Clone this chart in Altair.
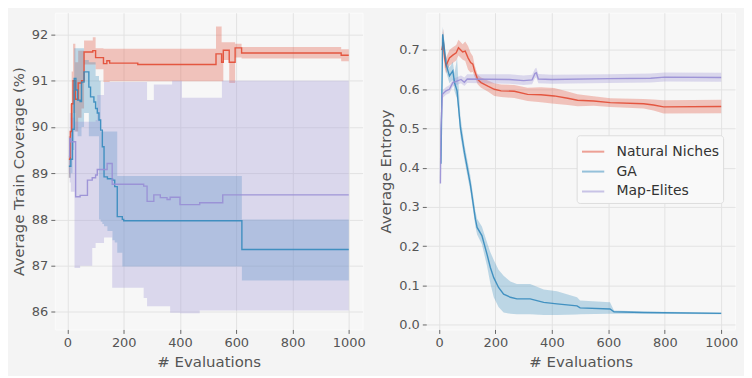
import altair as alt
import pandas as pd

SERIES = ["Natural Niches", "GA", "Map-Elites"]
COLORS = ["#E24A33", "#348ABD", "#988ED5"]
X_TICKS = [0, 200, 400, 600, 800, 1000]

# ---------------- Left panel: Average Train Coverage (%) ----------------
COV_NN_X = [5, 10, 15, 20, 28, 38, 50, 59, 90, 100, 128, 140, 150, 250, 528, 548, 554, 575, 596, 619, 973, 1000]
COV_NN_MEAN = [89.3, 89.9, 90.5, 91.0, 90.6, 90.95, 91.0, 91.62, 91.65, 91.5, 91.37, 91.43, 91.38, 91.35,
               91.58, 91.40, 91.66, 91.40, 91.71, 91.60, 91.55, 91.55]
COV_NN_LO = [88.9, 89.3, 89.8, 90.3, 89.9, 90.2, 90.4, 91.35, 91.35, 91.25, 90.97, 90.97, 90.99, 90.99,
             90.99, 90.99, 91.45, 90.95, 91.5, 91.48, 91.42, 91.42]
COV_NN_HI = [89.8, 90.5, 91.2, 91.8, 91.4, 91.65, 91.65, 91.87, 91.94, 91.7, 91.69, 91.69, 91.69, 91.69,
             92.17, 91.83, 91.83, 91.83, 91.8, 91.73, 91.68, 91.68]

COV_GA_X = [5, 12, 18, 24, 30, 36, 45, 50, 59, 76, 82, 94, 100, 106, 112, 118, 124, 130, 142, 160, 168,
            177, 195, 200, 620, 1000]
COV_GA_MEAN = [89.15, 89.3, 89.95, 91.05, 90.8, 90.58, 90.55, 90.97, 91.19, 90.86, 90.65, 90.54, 90.4,
               90.3, 90.15, 89.93, 89.57, 88.92, 88.88, 88.85, 88.71, 88.06, 88.0, 87.97, 87.35, 87.35]
COV_GA_LO = [88.9, 89.0, 89.5, 89.9, 89.9, 89.8, 89.8, 90.0, 90.3, 89.8, 89.8, 89.8, 89.8,
             89.8, 88.0, 87.95, 87.9, 87.85, 87.75, 87.55, 87.5, 87.28, 86.98, 86.98, 86.68, 86.68]
COV_GA_HI = [89.5, 90.3, 90.8, 91.7, 91.7, 91.7, 91.7, 91.7, 91.45, 91.4, 91.4, 91.4, 91.1,
             91.1, 91.0, 89.9, 89.9, 89.9, 89.9, 89.9, 89.9, 88.94, 88.94, 88.94, 88.0, 88.0]

COV_ME_X = [5, 8, 12, 25, 29, 45, 71, 88, 100, 106, 130, 141, 159, 271, 283, 307, 330, 354, 365, 372,
            400, 407, 470, 549, 552, 1000]
COV_ME_MEAN = [89.36, 89.75, 89.68, 89.68, 88.49, 88.52, 88.85, 88.9, 88.96, 89.08, 89.08, 89.21, 88.76,
               88.72, 88.39, 88.53, 88.47, 88.43, 88.48, 88.48, 88.32, 88.32, 88.36, 88.36, 88.53, 88.53]
COV_ME_LO = [89.0, 88.8, 88.6, 86.95, 86.95, 87.0, 87.0, 87.38, 87.49, 87.49, 87.61, 87.61, 86.52,
             86.3, 86.12, 86.12, 86.12, 86.12, 85.98, 85.98, 85.97, 85.97, 86.03, 86.03, 86.03, 86.03]
COV_ME_HI = [89.8, 90.3, 90.2, 90.11, 90.11, 90.11, 90.11, 90.11, 90.15, 90.69, 90.97, 90.97, 90.97,
             90.97, 90.58, 90.92, 90.92, 90.92, 90.92, 91.0, 91.0, 90.63, 90.63, 91.0, 91.0, 91.0]

# ---------------- Right panel: Average Entropy ----------------
ENT_NN_X = [10, 15, 20, 25, 37, 49, 61, 69, 84, 93, 103, 112, 120, 126, 137, 149, 173, 196, 220, 267,
            314, 361, 408, 456, 491, 548, 607, 725, 760, 796, 1000]
ENT_NN_MEAN = [0.70, 0.72, 0.68, 0.66, 0.68, 0.687, 0.693, 0.706, 0.695, 0.697, 0.68, 0.668, 0.664, 0.647,
               0.625, 0.617, 0.608, 0.60, 0.596, 0.595, 0.587, 0.586, 0.583, 0.577, 0.572, 0.570, 0.566,
               0.563, 0.560, 0.555, 0.556]
ENT_NN_LO = [0.67, 0.69, 0.655, 0.64, 0.66, 0.667, 0.673, 0.686, 0.675, 0.672, 0.65, 0.643, 0.644, 0.632,
             0.613, 0.604, 0.594, 0.583, 0.580, 0.578, 0.570, 0.567, 0.563, 0.560, 0.557, 0.558, 0.555,
             0.551, 0.546, 0.538, 0.539]
ENT_NN_HI = [0.73, 0.755, 0.705, 0.68, 0.70, 0.707, 0.713, 0.726, 0.715, 0.722, 0.71, 0.693, 0.684, 0.662,
             0.637, 0.630, 0.622, 0.615, 0.612, 0.611, 0.604, 0.605, 0.603, 0.594, 0.587, 0.582, 0.577,
             0.575, 0.574, 0.572, 0.573]

ENT_GA_X = [7, 13, 25, 37, 49, 55, 64, 76, 90, 111, 129, 135, 152, 170, 182, 194, 211, 229, 253, 276,
            323, 371, 418, 489, 500, 606, 620, 724, 1000]
ENT_GA_MEAN = [0.41, 0.74, 0.664, 0.634, 0.647, 0.617, 0.596, 0.502, 0.439, 0.358, 0.269, 0.248, 0.227,
               0.18, 0.146, 0.12, 0.095, 0.078, 0.07, 0.066, 0.066, 0.057, 0.053, 0.048, 0.043, 0.04,
               0.033, 0.031, 0.029]
ENT_GA_LO = [0.40, 0.72, 0.645, 0.615, 0.625, 0.595, 0.575, 0.48, 0.42, 0.34, 0.25, 0.23, 0.205, 0.15,
             0.105, 0.07, 0.045, 0.031, 0.028, 0.027, 0.027, 0.025, 0.025, 0.026, 0.027, 0.028, 0.028,
             0.028, 0.027]
ENT_GA_HI = [0.42, 0.76, 0.685, 0.655, 0.67, 0.64, 0.68, 0.53, 0.46, 0.38, 0.29, 0.27, 0.25, 0.21, 0.185,
             0.165, 0.14, 0.125, 0.11, 0.104, 0.104, 0.09, 0.085, 0.07, 0.062, 0.057, 0.036, 0.034, 0.031]

ENT_ME_X = [5, 7, 12, 25, 37, 49, 61, 78, 90, 100, 250, 300, 330, 340, 345, 352, 400, 600, 750, 800, 1000]
ENT_ME_MEAN = [0.36, 0.50, 0.587, 0.596, 0.60, 0.617, 0.62, 0.625, 0.618, 0.626, 0.625, 0.622, 0.624,
               0.64, 0.642, 0.626, 0.625, 0.627, 0.628, 0.631, 0.630]
ENT_ME_LO = [0.355, 0.49, 0.577, 0.586, 0.59, 0.607, 0.61, 0.615, 0.608, 0.616, 0.614, 0.611, 0.613,
             0.628, 0.63, 0.615, 0.614, 0.616, 0.617, 0.62, 0.619]
ENT_ME_HI = [0.365, 0.51, 0.597, 0.606, 0.61, 0.627, 0.63, 0.635, 0.63, 0.638, 0.638, 0.635, 0.637,
             0.652, 0.655, 0.639, 0.637, 0.638, 0.64, 0.643, 0.642]


def frame(name, xs, mean, lo, hi):
    return pd.DataFrame({"series": name, "band": name, "x": xs, "mean": mean, "lo": lo, "hi": hi})


cov_df = pd.concat([
    frame("Natural Niches", COV_NN_X, COV_NN_MEAN, COV_NN_LO, COV_NN_HI),
    frame("GA", COV_GA_X, COV_GA_MEAN, COV_GA_LO, COV_GA_HI),
    frame("Map-Elites", COV_ME_X, COV_ME_MEAN, COV_ME_LO, COV_ME_HI),
])
ent_df = pd.concat([
    frame("Natural Niches", ENT_NN_X, ENT_NN_MEAN, ENT_NN_LO, ENT_NN_HI),
    frame("GA", ENT_GA_X, ENT_GA_MEAN, ENT_GA_LO, ENT_GA_HI),
    frame("Map-Elites", ENT_ME_X, ENT_ME_MEAN, ENT_ME_LO, ENT_ME_HI),
])

# band scale uses alphabetical order so it is kept apart from the line legend
COLOR_OF = dict(zip(SERIES, COLORS))
BAND_DOMAIN = sorted(SERIES)
BAND_RANGE = [COLOR_OF[s] for s in BAND_DOMAIN]


def panel(df, ydomain, yticks, ytitle, yfmt, interp, width, legend):
    x = alt.X("x:Q", scale=alt.Scale(domain=[-45, 1049], nice=False, zero=False),
              axis=alt.Axis(values=X_TICKS, title="# Evaluations", format="d"))
    yscale = alt.Scale(domain=ydomain, nice=False, zero=False)
    yaxis = alt.Axis(values=yticks, title=ytitle, format=yfmt)
    band = alt.Chart(df).mark_area(opacity=0.3, interpolate=interp, clip=True).encode(
        x=x,
        y=alt.Y("lo:Q", scale=yscale, axis=yaxis, stack=None),
        y2="hi:Q",
        fill=alt.Fill("band:N", scale=alt.Scale(domain=BAND_DOMAIN, range=BAND_RANGE), legend=None),
    )
    line = alt.Chart(df).mark_line(strokeWidth=1.4, interpolate=interp, clip=True, opacity=0.9).encode(
        x=x,
        y=alt.Y("mean:Q", scale=yscale, axis=yaxis),
        stroke=alt.Stroke("series:N", scale=alt.Scale(domain=SERIES, range=COLORS), legend=legend),
    )
    return alt.layer(band, line).properties(width=width, height=318)


left = panel(cov_df, [85.62, 92.47], [86, 87, 88, 89, 90, 91, 92], "Average Train Coverage (%)", "d",
             "step-after", 309, None)
right = panel(ent_df, [-0.012, 0.795], [0.0, 0.1, 0.2, 0.3, 0.4, 0.5, 0.6, 0.7], "Average Entropy", ".1f",
              "linear", 310,
              alt.Legend(title=None, orient="none", legendX=151, legendY=123, symbolType="stroke",
                         symbolSize=500, symbolStrokeWidth=2, symbolOpacity=0.5,
                         labelFontSize=14, labelColor="#333333", labelOffset=11, fillColor="#f9f9f9",
                         strokeColor="#dddddd", cornerRadius=3, padding=4, rowPadding=0,
                         labelFont="DejaVu Sans"))

chart = alt.hconcat(left, right, spacing=11).resolve_scale(fill="independent", stroke="independent").properties(
    background="#f4f4f4",
    padding={"left": 2, "top": 3, "right": 5, "bottom": 5},
).configure_view(
    fill="#f7f7f7", stroke="#fbfbfb", strokeWidth=1
).configure_axis(
    labelFont="DejaVu Sans", titleFont="DejaVu Sans", labelFontSize=13, titleFontSize=15,
    labelColor="#555555", titleColor="#555555", titleFontWeight="normal",
    gridColor="#e3e3e3", gridWidth=1, domain=False, tickColor="#666666", tickSize=4,
    labelPadding=3, titlePadding=5,
)

chart.save("out.html", embed_options={"renderer": "svg", "actions": False})
